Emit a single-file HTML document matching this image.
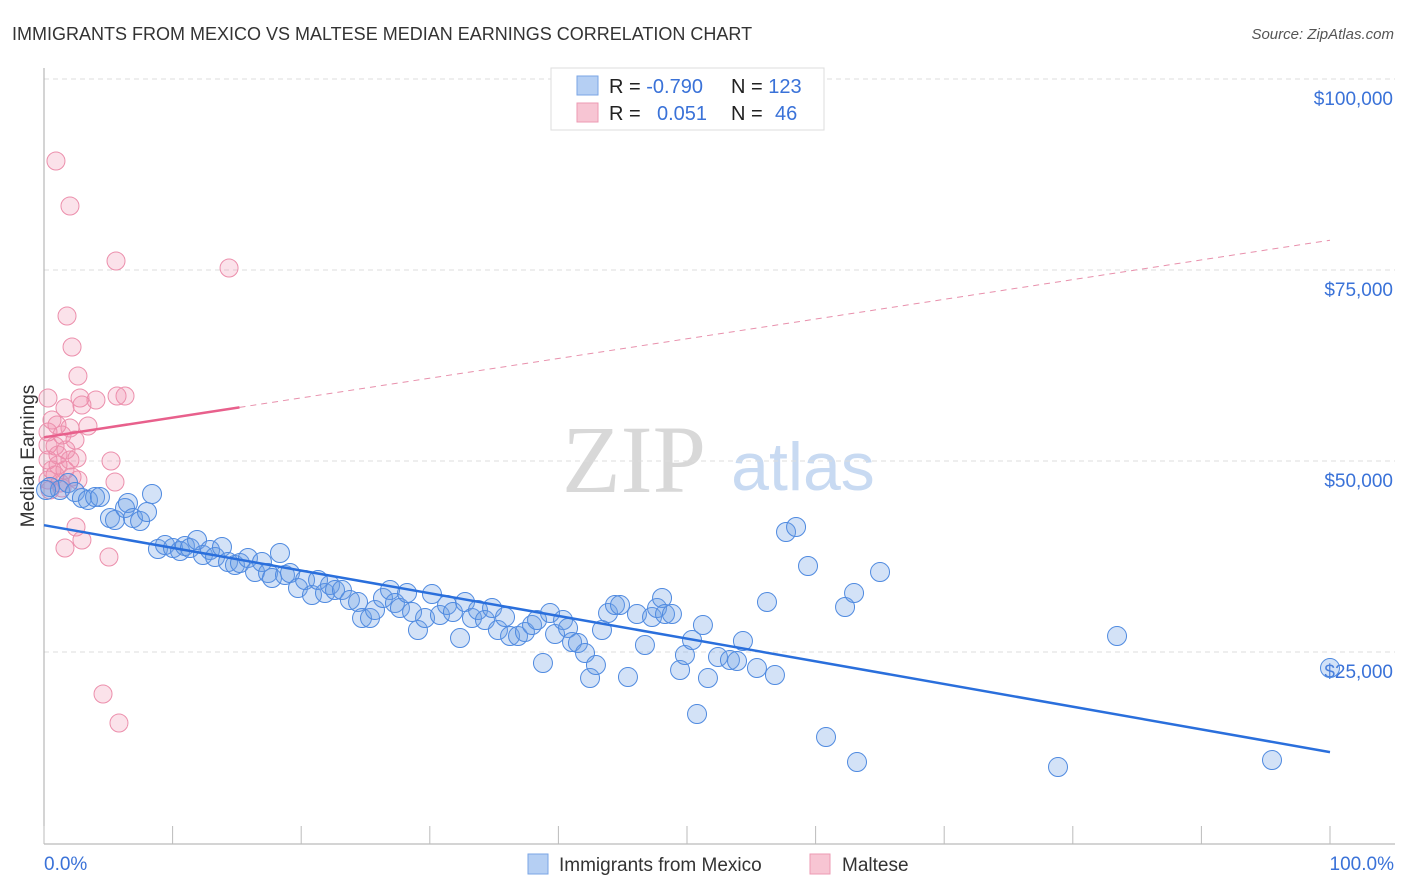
<!DOCTYPE html>
<html><head><meta charset="utf-8"><style>
body{margin:0;background:#fff;font-family:"Liberation Sans",sans-serif;}
#wrap{position:relative;width:1406px;height:892px;overflow:hidden;}
</style></head><body>
<div id="wrap">
<svg id="svg" width="1406" height="892" xmlns="http://www.w3.org/2000/svg">
<text x="12" y="40" font-size="18" fill="#333">IMMIGRANTS FROM MEXICO VS MALTESE MEDIAN EARNINGS CORRELATION CHART</text>
<text x="1394" y="39" font-size="15" fill="#555" font-style="italic" text-anchor="end">Source: ZipAtlas.com</text>
<text x="634" y="492" font-size="96" font-family="Liberation Serif,serif" fill="#d8d8d8" text-anchor="middle">ZIP</text>
<text x="803" y="490" font-size="68" fill="#c8daf2" text-anchor="middle">atlas</text>
<text transform="translate(34,456) rotate(-90)" font-size="19" fill="#333" text-anchor="middle">Median Earnings</text>
<g id="grid"></g><g id="pts"></g><g id="lines"></g>
<g>
<rect x="551" y="68" width="273" height="62" fill="#fff" stroke="#ddd"/>
<rect x="577" y="76" width="21" height="19" fill="#b5cff3" stroke="#7aa6e6"/>
<rect x="577" y="103" width="21" height="19" fill="#f7c5d3" stroke="#ec9ab3"/>
<text x="609" y="93" font-size="20" fill="#222">R = <tspan fill="#3a72d8">-0.790</tspan></text>
<text x="731" y="93" font-size="20" fill="#222">N = <tspan fill="#3a72d8">123</tspan></text>
<text x="609" y="120" font-size="20" fill="#222">R = <tspan fill="#3a72d8" x="657">0.051</tspan></text>
<text x="731" y="120" font-size="20" fill="#222">N = <tspan fill="#3a72d8" x="775">46</tspan></text>
</g>
<g>
<rect x="528" y="854" width="20" height="20" fill="#b5cff3" stroke="#7aa6e6"/>
<text x="559" y="871" font-size="19" fill="#333">Immigrants from Mexico</text>
<rect x="810" y="854" width="20" height="20" fill="#f7c5d3" stroke="#ec9ab3"/>
<text x="842" y="871" font-size="19" fill="#333">Maltese</text>
</g>
<text x="44" y="870" font-size="19" fill="#3a72d8">0.0%</text>
<text x="1394" y="870" font-size="19" fill="#3a72d8" text-anchor="end">100.0%</text>
</svg>
</div>
<script>
const yTicks=[25000,50000,75000,100000];
const yTickLabels=["$25,000","$50,000","$75,000","$100,000"];
const bluePx=[[50,487],[60,490],[68,483],[75,492],[82,498],[88,500],[95,497],[100,497],[110,518],[115,520],[125,508],[128,503],[133,518],[140,521],[147,512],[152,494],[158,549],[165,545],[173,548],[180,551],[185,546],[190,548],[197,540],[203,555],[210,550],[215,557],[222,547],[228,562],[235,565],[240,563],[248,558],[255,572],[262,562],[268,573],[272,578],[280,553],[285,575],[290,573],[298,588],[305,580],[312,595],[318,580],[325,593],[330,585],[335,590],[342,590],[350,600],[358,602],[362,618],[370,618],[375,610],[383,598],[390,590],[395,603],[400,608],[407,593],[412,612],[418,630],[425,618],[432,594],[440,615],[447,605],[453,612],[460,638],[465,602],[472,618],[478,610],[485,620],[492,608],[498,630],[505,617],[510,636],[518,636],[525,632],[532,625],[537,620],[543,663],[550,613],[555,634],[563,620],[568,628],[572,642],[578,643],[585,653],[590,678],[596,665],[602,630],[608,613],[615,605],[620,605],[628,677],[637,614],[645,645],[652,617],[657,608],[662,598],[665,614],[672,614],[680,670],[685,655],[692,640],[697,714],[703,625],[708,678],[718,657],[730,660],[737,661],[743,641],[757,668],[767,602],[775,675],[786,532],[796,527],[808,566],[826,737],[845,607],[854,593],[857,762],[880,572],[1058,767],[1117,636],[1272,760],[1330,668],[46,490]];
const pinkPx=[[56,161],[70,206],[116,261],[229,268],[67,316],[72,347],[78,376],[48,398],[65,408],[96,400],[80,398],[125,396],[117,396],[82,405],[52,420],[57,425],[88,426],[70,428],[48,432],[62,435],[75,440],[55,446],[66,450],[77,458],[111,461],[48,460],[58,465],[65,470],[55,475],[72,477],[48,480],[60,483],[78,480],[115,482],[50,490],[62,488],[76,527],[82,540],[65,548],[109,557],[103,694],[119,723],[48,445],[58,455],[70,460],[52,470]];
const blueX=bluePx.map(p=>+((p[0]-44)/12.86).toFixed(2));
const blueY=bluePx.map(p=>Math.round(50000+(461-p[1])*130.9));
const pinkX=pinkPx.map(p=>+((p[0]-44)/12.86).toFixed(2));
const pinkY=pinkPx.map(p=>Math.round(50000+(461-p[1])*130.9));
const blueTrend=[41600,11900];
const pinkTrend=[53100,78900];
const pinkSolidEnd=15.2;

const X=v=>44+v*12.86;
const Y=v=>843-v*(191/25000);
const NS="http://www.w3.org/2000/svg";
function mk(tag,attrs,parent){const e=document.createElementNS(NS,tag);for(const k in attrs)e.setAttribute(k,attrs[k]);parent.appendChild(e);return e;}
const grid=document.getElementById('grid');
yTicks.forEach((t,i)=>{
  const l=mk('line',{x1:44,x2:1395,y1:Y(t),y2:Y(t),stroke:'#ddd','stroke-dasharray':'5,4'},grid);
  
  
  const tx=mk('text',{x:1393,y:Y(t)+26,'font-size':19,fill:'#3a72d8','text-anchor':'end'},grid);
  tx.textContent=yTickLabels[i];
  
  
});
const ax=mk('line',{x1:44,x2:44,y1:68,y2:844,stroke:'#aaa'},grid);


const bx=mk('line',{x1:44,x2:1395,y1:844,y2:844,stroke:'#aaa'},grid);


for(let i=0;i<=10;i++){
  const t=mk('line',{x1:X(i*10),x2:X(i*10),y1:826,y2:844,stroke:'#bbb'},grid);
  
  
}
const pts=document.getElementById('pts');
pinkX.forEach((x,i)=>{
  const c=mk('circle',{cx:X(x),cy:Y(pinkY[i]),r:9,fill:'rgba(240,140,170,0.25)',stroke:'#ec8fac','stroke-width':1},pts);
  
  
});
blueX.forEach((x,i)=>{
  const c=mk('circle',{cx:X(x),cy:Y(blueY[i]),r:9.5,fill:'rgba(110,160,230,0.3)',stroke:'#4f8ae0','stroke-width':1},pts);
  
  
});
const lines=document.getElementById('lines');
const bl=mk('line',{x1:X(0),y1:Y(blueTrend[0]),x2:X(100),y2:Y(blueTrend[1]),stroke:'#2a6fdc','stroke-width':2.5},lines);


const pAt=x=>pinkTrend[0]+(pinkTrend[1]-pinkTrend[0])*x/100;
const ps=mk('line',{x1:X(0),y1:Y(pAt(0)),x2:X(pinkSolidEnd),y2:Y(pAt(pinkSolidEnd)),stroke:'#e8608c','stroke-width':2.5},lines);


const pd=mk('line',{x1:X(pinkSolidEnd),y1:Y(pAt(pinkSolidEnd)),x2:X(100),y2:Y(pAt(100)),stroke:'#e890ac','stroke-width':1,'stroke-dasharray':'6,5'},lines);


</script>
</body></html>
